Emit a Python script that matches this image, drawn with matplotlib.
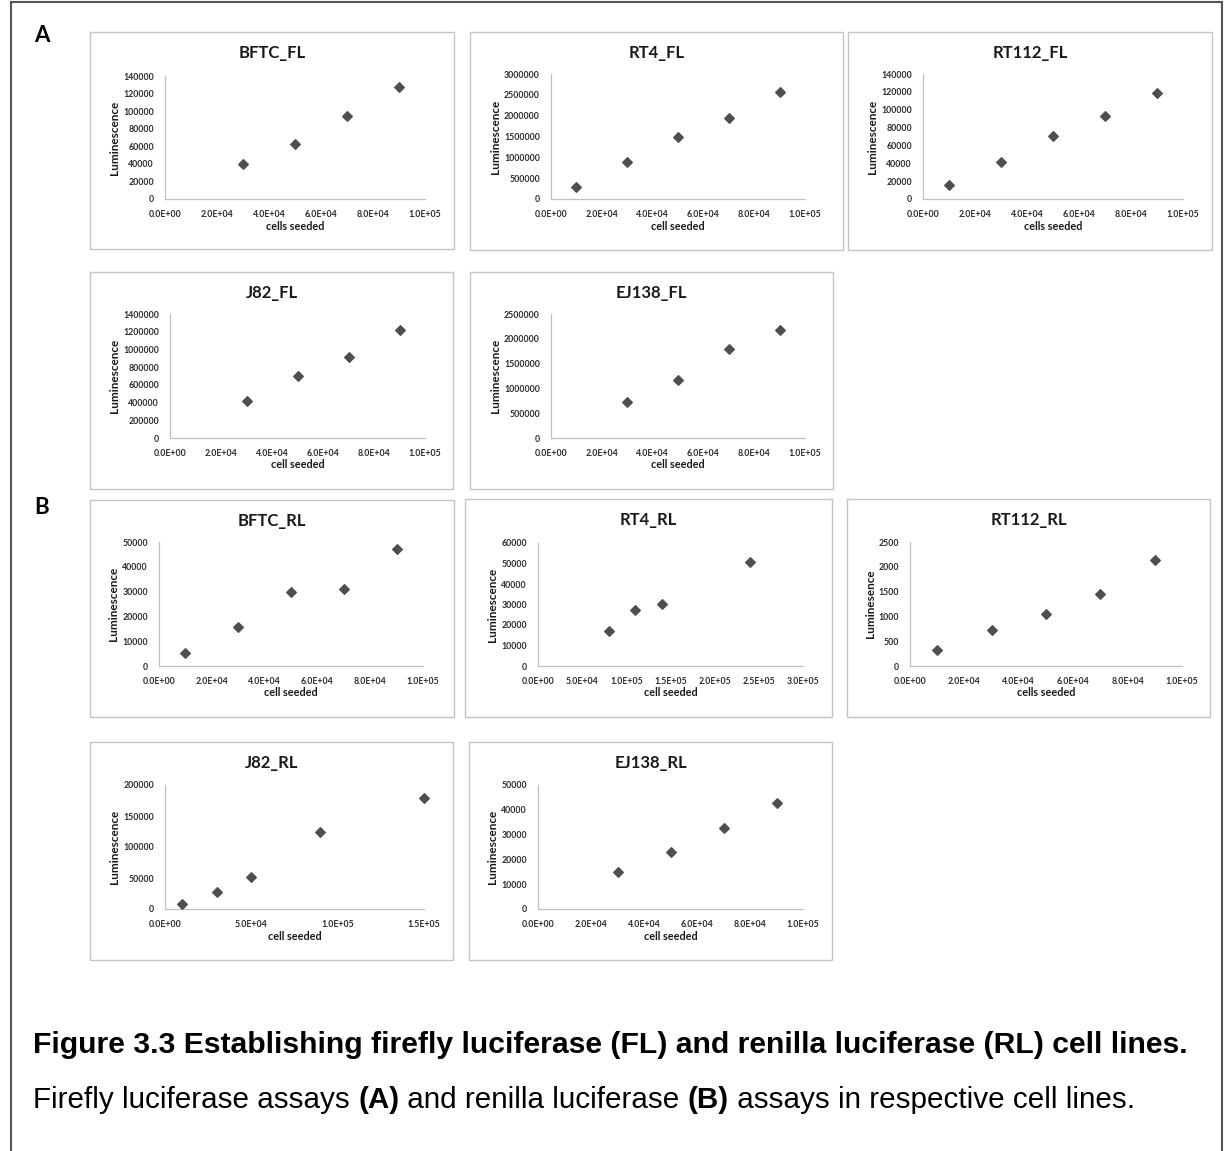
import matplotlib
matplotlib.use("Agg")
import matplotlib.pyplot as plt
from matplotlib.patches import Rectangle
from matplotlib.ticker import FuncFormatter, MultipleLocator

# --- data ---
cells_4 = [3e4, 5e4, 7e4, 9e4]
cells_5 = [1e4, 3e4, 5e4, 7e4, 9e4]

bftc_fl = [40000, 62500, 94500, 128000]
rt4_fl = [297000, 883000, 1485000, 1942000, 2560000]
rt112_fl = [16000, 41900, 71000, 93500, 118500]
j82_fl = [414000, 697000, 911000, 1220000]
ej138_fl = [719000, 1176000, 1794000, 2177000]

bftc_rl = [5400, 15900, 29800, 30900, 47300]
rt4_rl_cells = [8e4, 1.1e5, 1.4e5, 2.4e5]
rt4_rl = [17300, 27200, 30200, 50900]
rt112_rl = [329, 719, 1055, 1458, 2144]
j82_rl_cells = [1e4, 3e4, 5e4, 9e4, 1.5e5]
j82_rl = [7500, 26900, 52200, 124000, 178500]
ej138_rl = [15000, 23000, 32500, 42600]

W, H = 1225, 1151
EXCEL_FONT = ["Lato", "DejaVu Sans"]
DOC_FONT = ["Liberation Sans", "DejaVu Sans"]


def fx(px):
    return px / W


def fy(py):
    return 1 - py / H


def sci(v, pos):
    return f"{v:.1E}"


def draw_panel(fig, title, xs, ys, xlabel, ylabel, ymax, ystep, xmax, xstep, box, inner):
    bx0, by0, bx1, by1 = box
    fig.add_artist(Rectangle((fx(bx0), fy(by1)), (bx1 - bx0) / W, (by1 - by0) / H,
                             transform=fig.transFigure, fill=False,
                             edgecolor="#c4c4c4", lw=1.0))
    fig.text(fx((bx0 + bx1) / 2), fy(by0 + 21), title, ha="center", va="center",
             fontsize=12, fontweight="bold", family=EXCEL_FONT, color="#1a1a1a")

    ax0, ay0, ax1, ay1 = inner
    ax = fig.add_axes([fx(ax0), fy(ay1), (ax1 - ax0) / W, (ay1 - ay0) / H])
    ax.scatter(xs, ys, marker="D", s=24, color="#4f4f4f", zorder=3, clip_on=False)
    ax.set_xlim(0, xmax)
    ax.set_ylim(0, ymax)
    ax.xaxis.set_major_locator(MultipleLocator(xstep))
    ax.yaxis.set_major_locator(MultipleLocator(ystep))
    ax.xaxis.set_major_formatter(FuncFormatter(sci))
    ax.yaxis.set_major_formatter(FuncFormatter(lambda v, p: f"{v:.0f}"))
    for side in ("top", "right"):
        ax.spines[side].set_visible(False)
    for side in ("left", "bottom"):
        ax.spines[side].set_color("#c0c0c0")
        ax.spines[side].set_linewidth(0.9)
    ax.tick_params(length=0, labelsize=6.3, labelcolor="#2b2b2b")
    ax.tick_params(axis="y", pad=8)
    ax.tick_params(axis="x", pad=8)
    for lab in ax.get_xticklabels() + ax.get_yticklabels():
        lab.set_family(EXCEL_FONT)
        lab.set_fontweight("bold")
    ax.set_xlabel(xlabel, fontsize=7.8, fontweight="bold", family=EXCEL_FONT,
                  color="#1a1a1a", labelpad=1)
    ax.set_ylabel(ylabel, fontsize=8.5, fontweight="bold", family=EXCEL_FONT,
                  color="#1a1a1a", labelpad=2)
    return ax


fig = plt.figure(figsize=(12.25, 11.51), dpi=100)

# outer frame
fig.add_artist(Rectangle((fx(11), fy(1160)), (1222 - 11) / W, (1160 - 2) / H,
                         transform=fig.transFigure, fill=False,
                         edgecolor="#555555", lw=1.5))

fig.text(fx(42), fy(35), "A", ha="center", va="center", fontsize=16,
         fontweight="bold", family=EXCEL_FONT)
fig.text(fx(42), fy(507), "B", ha="center", va="center", fontsize=16,
         fontweight="bold", family=EXCEL_FONT)

# panel A
draw_panel(fig, "BFTC_FL", cells_4, bftc_fl, "cells seeded", "Luminescence",
           140000, 20000, 1e5, 2e4, (90, 32, 454, 249), (165, 76, 425, 199))
draw_panel(fig, "RT4_FL", cells_5, rt4_fl, "cell seeded", "Luminescence",
           3000000, 500000, 1e5, 2e4, (470, 32, 843, 250), (551, 74, 805, 199))
draw_panel(fig, "RT112_FL", cells_5, rt112_fl, "cells seeded", "Luminescence",
           140000, 20000, 1e5, 2e4, (848, 32, 1212, 250), (923, 74, 1183, 199))
draw_panel(fig, "J82_FL", cells_4, j82_fl, "cell seeded", "Luminescence",
           1400000, 200000, 1e5, 2e4, (90, 272, 453, 489), (170, 314, 425, 438))
draw_panel(fig, "EJ138_FL", cells_4, ej138_fl, "cell seeded", "Luminescence",
           2500000, 500000, 1e5, 2e4, (470, 272, 833, 489), (551, 314, 805, 438))

# panel B
draw_panel(fig, "BFTC_RL", cells_5, bftc_rl, "cell seeded", "Luminescence",
           50000, 10000, 1e5, 2e4, (90, 500, 454, 717), (159, 542, 423, 666))
draw_panel(fig, "RT4_RL", rt4_rl_cells, rt4_rl, "cell seeded", "Luminescence",
           60000, 10000, 3e5, 5e4, (465, 499, 832, 717), (538, 543, 803, 666))
draw_panel(fig, "RT112_RL", cells_5, rt112_rl, "cells seeded", "Luminesence",
           2500, 500, 1e5, 2e4, (847, 499, 1210, 717), (910, 542, 1182, 666))
draw_panel(fig, "J82_RL", j82_rl_cells, j82_rl, "cell seeded", "Luminescence",
           200000, 50000, 1.5e5, 5e4, (90, 742, 453, 960), (165, 785, 424, 909))
draw_panel(fig, "EJ138_RL", cells_4, ej138_rl, "cell seeded", "Luminescence",
           50000, 10000, 1e5, 2e4, (469, 742, 832, 960), (538, 785, 803, 909))

# caption
fig.text(fx(33), fy(1045),
         "Figure 3.3 Establishing firefly luciferase (FL) and renilla luciferase (RL) cell lines.",
         ha="left", va="center", fontsize=21.7, fontweight="bold", family=DOC_FONT)

renderer = fig.canvas.get_renderer()
pieces = [("Firefly luciferase assays ", "normal"), ("(A)", "bold"),
          (" and renilla luciferase ", "normal"), ("(B)", "bold"),
          (" assays in respective cell lines.", "normal")]
x = 33
for txt, weight in pieces:
    t = fig.text(fx(x), fy(1100), txt, ha="left", va="center", fontsize=21.3,
                 fontweight=weight, family=DOC_FONT)
    x += t.get_window_extent(renderer=renderer).width

fig.savefig("out.png", dpi=100)
